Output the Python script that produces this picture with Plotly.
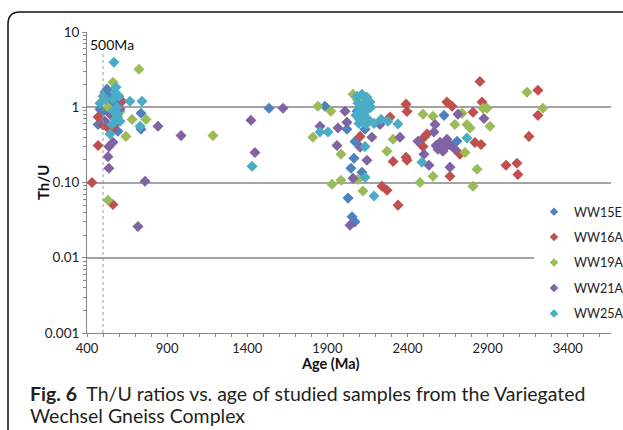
import plotly.graph_objects as go

# ---- data (age in Ma, Th/U ratio) ----
series_names = ["WW15E", "WW16A", "WW19A", "WW21A", "WW25A"]
series_colors = ["#4F81BD", "#C0504D", "#9BBB59", "#8064A2", "#4BACC6"]

ww15e_age = [512, 525, 481, 469, 593, 556, 500, 544, 737, 737, 537,
             1536, 1885, 2022, 2072, 2066, 2047, 2116, 2029, 2054, 2072, 2104, 2135, 2085,
             2628, 2709]
ww15e_thu = [1.58, 1.74, 0.94, 0.59, 0.48, 1.28, 0.88, 1.10, 0.83, 0.51, 1.50,
             0.97, 1.03, 0.51, 0.35, 0.21, 0.155, 0.137, 0.062, 0.035, 0.030, 0.69, 0.51, 0.885,
             0.78, 0.354]

ww16a_age = [431, 469, 562, 618, 469, 531, 556, 500, 600, 581,
             2104, 2291, 2310, 2241, 2272, 2341, 2391, 2397, 2391, 2397,
             2646, 2678, 2852, 2809, 2865, 2522, 2503, 2497, 2821, 2859, 2727, 2665,
             3015, 3083, 3089, 3158, 3214, 3214]
ww16a_thu = [0.10, 0.31, 0.051, 1.20, 0.74, 0.53, 0.51, 0.58, 1.13, 0.61,
             0.41, 0.74, 0.19, 0.089, 0.079, 0.050, 1.10, 0.88, 0.217, 0.197,
             1.17, 1.03, 2.20, 0.86, 1.17, 0.44, 0.40, 0.30, 0.34, 0.32, 0.237, 0.121,
             0.17, 0.18, 0.128, 0.41, 1.68, 0.78]

ww19a_age = [531, 724, 562, 681, 768, 643, 531, 606, 1186, 593,
             1841, 1922, 2060, 1810, 1985, 1929, 1985, 2122, 2310, 2272, 2091, 2085,
             2497, 2559, 2696, 2771, 2790, 2871, 2896, 2915, 2759, 2559, 2834, 2478, 2809,
             3146, 3245, 2740]
ww19a_thu = [0.058, 3.20, 2.15, 0.69, 0.69, 0.41, 1.00, 0.88, 0.42, 0.74,
             1.03, 0.885, 1.49, 0.40, 0.237, 0.095, 0.107, 0.077, 0.375, 0.26, 0.11, 1.28,
             0.81, 0.76, 0.59, 0.59, 0.53, 0.97, 0.97, 0.56, 0.25, 0.121, 0.15, 0.10, 0.089,
             1.58, 0.97, 0.83]

ww21a_age = [718, 762, 531, 537, 537, 562, 843, 987, 1423, 1448, 512, 587, 544, 606,
             1623, 2010, 1854, 1966, 1960, 2104, 2178, 2147, 2060, 2041, 2022, 2228, 2353,
             2715, 2572, 2565, 2465, 2503, 2534, 2665, 2877,
             2578, 2603, 2634, 2665, 2696, 2621, 2590, 2646]
ww21a_thu = [0.026, 0.104, 0.22, 0.155, 0.30, 0.343, 0.56, 0.42, 0.67, 0.25, 0.65, 1.17, 0.81, 0.94,
             0.97, 0.885, 0.56, 0.53, 0.31, 0.295, 0.40, 0.197, 0.114, 0.027, 0.63, 0.59, 0.40,
             0.81, 0.59, 0.47, 0.354, 0.237, 0.17, 0.16, 0.71,
             0.31, 0.343, 0.29, 0.32, 0.277, 0.26, 0.277, 0.375]

ww25a_age = [568, 500, 575, 668, 743, 731, 544, 562, 587, 593, 575, 556, 600, 581, 512, 481, 606, 562,
             1430,
             1854, 1904, 2235, 2278, 2135, 2135, 2191,
             2085, 2116, 2147, 2091, 2128, 2166, 2104, 2141, 2172, 2079, 2116, 2154, 2097, 2141, 2191,
             2340, 2771, 2490]
ww25a_thu = [3.96, 1.40, 1.58, 1.20, 1.20, 0.56, 0.44, 1.28, 1.00, 0.81, 0.69, 0.59, 1.40, 1.84, 1.28, 1.13, 0.65, 0.885,
             0.164,
             0.47, 0.47, 0.69, 0.65, 0.30, 0.117, 0.066,
             1.40, 1.49, 1.36, 1.13, 1.13, 1.17, 0.94, 0.885, 1.00, 0.78, 0.74, 0.69, 0.61, 0.59, 0.61,
             0.60, 0.39, 0.186]

ages = [ww15e_age, ww16a_age, ww19a_age, ww21a_age, ww25a_age]
ratios = [ww15e_thu, ww16a_thu, ww19a_thu, ww21a_thu, ww25a_thu]

x_ticks = [400, 900, 1400, 1900, 2400, 2900, 3400]
y_ticks = [0.001, 0.01, 0.1, 1, 10]
y_ticktext = ["0.001", "0.01", "0.10", "1", "10"]
marker_line_age = 500

# ---- figure ----
W, H = 623, 430
L, R, T, B = 87, 12, 32, 97
pw, ph = W - L - R, H - T - B

def px_x(p):
    return (p - L) / pw

def px_y(p):
    return (H - B - p) / ph

fig = go.Figure()
for name, col, xs, ys in zip(series_names, series_colors, ages, ratios):
    fig.add_trace(go.Scatter(
        x=xs, y=ys, mode="markers", name=name, showlegend=False,
        marker=dict(symbol="diamond", size=8.5, color=col, line=dict(width=0)),
    ))
# legend entries (smaller legend symbols, as in the reference)
for name, col in zip(series_names, series_colors):
    fig.add_trace(go.Scatter(
        x=[None], y=[None], mode="markers", name=name, legendgroup=name,
        marker=dict(symbol="diamond", size=6.5, color=col, line=dict(width=0)),
    ))

fig.update_layout(
    width=W, height=H,
    margin=dict(l=L, r=R, t=T, b=B, autoexpand=False),
    paper_bgcolor="white", plot_bgcolor="white",
    font=dict(family="Lato, Liberation Sans, sans-serif", size=13, color="#222"),
    showlegend=True,
    legend=dict(
        x=px_x(534), y=px_y(197), xanchor="left", yanchor="top",
        bgcolor="white", borderwidth=0,
        font=dict(family="Lato, sans-serif", size=12.5, color="#222"),
        itemsizing="trace", tracegroupgap=6.2,
    ),
)

fig.update_xaxes(
    range=[400, 3670], tickmode="array", tickvals=x_ticks,
    ticks="outside", ticklen=3, tickcolor="#888", tickwidth=1,
    minor=dict(dtick=100, tick0=400, ticks="outside", ticklen=3, tickcolor="#888"),
    showline=True, linecolor="#888", linewidth=1,
    showgrid=False, zeroline=False,
    tickfont=dict(size=13, color="#222"),
)

fig.update_yaxes(
    type="log", range=[-3, 1], tickmode="array", tickvals=y_ticks, ticktext=y_ticktext,
    ticks="outside", ticklen=4, tickcolor="#888",
    minor=dict(tickvals=[m * 10 ** e for e in range(-3, 1) for m in range(2, 10)],
               ticks="outside", ticklen=3, tickcolor="#888", showgrid=False),
    showline=True, linecolor="#888", linewidth=1,
    showgrid=True, gridcolor="#a3a3a3", gridwidth=1.6,
    zeroline=False,
    tickfont=dict(size=13.5, color="#222"),
)

# dotted 500 Ma reference line
fig.add_shape(type="line", xref="x", yref="paper",
              x0=marker_line_age, x1=marker_line_age, y0=0, y1=px_y(52),
              line=dict(color="#999", width=1, dash="dot"))
fig.add_annotation(x=px_x(88), y=px_y(45), xref="paper", yref="paper",
                   xanchor="left", yanchor="middle", showarrow=False,
                   text="500Ma", font=dict(size=14, color="#111"))

# axis titles
fig.add_annotation(x=px_x(43), y=px_y(183), xref="paper", yref="paper",
                   xanchor="center", yanchor="middle",
                   textangle=-90, showarrow=False, text="<b>Th/U</b>",
                   font=dict(size=15, color="#111"))
fig.add_annotation(x=px_x(330), y=px_y(364), xref="paper", yref="paper",
                   xanchor="center", yanchor="middle",
                   showarrow=False, text="<b>Age (Ma)</b>",
                   font=dict(size=14.5, color="#111"))

# caption
cap_font = dict(family="Lato, sans-serif", size=19.5, color="#231f20")
fig.add_annotation(x=px_x(28), y=px_y(393), xref="paper", yref="paper",
                   xanchor="left", yanchor="middle", showarrow=False,
                   text="<b>Fig. 6</b>  Th/U ratios vs. age of studied samples from the Variegated",
                   font=cap_font)
fig.add_annotation(x=px_x(28), y=px_y(415), xref="paper", yref="paper",
                   xanchor="left", yanchor="middle", showarrow=False,
                   text="Wechsel Gneiss Complex", font=cap_font)

# rounded frame
x0, x1 = px_x(8), px_x(623)
yt, yb = px_y(12), px_y(430)
rx, ry = 12 / pw, 12 / ph
fig.add_shape(type="path", xref="paper", yref="paper",
              path=f"M {x0},{yb} L {x0},{yt - ry} Q {x0},{yt} {x0 + rx},{yt} L {x1},{yt}",
              line=dict(color="#111", width=1.5))

fig.write_html("out.html")
